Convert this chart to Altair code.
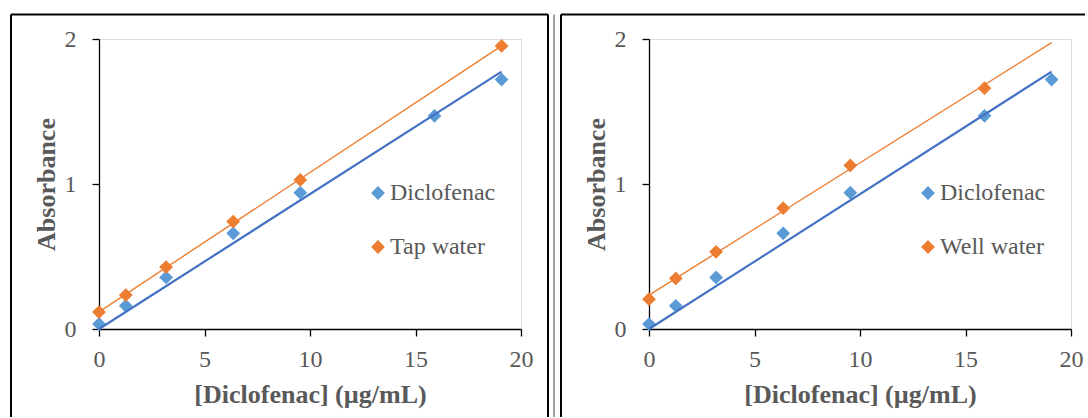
import altair as alt
import numpy as np
import pandas as pd

# ---------------- data ----------------
conc = [0, 1.27, 3.18, 6.36, 9.54, 15.9, 19.08]
diclofenac = [0.034, 0.16, 0.356, 0.66, 0.94, 1.47, 1.72]

tap_conc = [0, 1.27, 3.18, 6.36, 9.54, 19.08]
tap_water = [0.117, 0.234, 0.427, 0.741, 1.028, 1.952]

well_conc = [0, 1.27, 3.18, 6.36, 9.54, 15.9]
well_water = [0.206, 0.349, 0.532, 0.833, 1.128, 1.661]

x_ticks = [0, 5, 10, 15, 20]
y_ticks = [0, 1, 2]
x_title = "[Diclofenac] (µg/mL)"
y_title = "Absorbance"

BLUE_PT = "#5B9BD5"
BLUE_LN = "#4472C4"
ORANGE = "#ED7D31"
GRAY_TXT = "#595959"
FONT = "Liberation Serif"

W, H = 422, 290


def trend(xs, ys, origin=False):
    xs = np.asarray(xs, float)
    ys = np.asarray(ys, float)
    if origin:
        m = float((xs * ys).sum() / (xs * xs).sum())
        b = 0.0
    else:
        m, b = np.polyfit(xs, ys, 1)
    xr = [0.0, float(max(conc))]
    return pd.DataFrame({"x": xr, "y": [b + m * v for v in xr]})


x_enc = alt.X(
    "x:Q",
    scale=alt.Scale(domain=[0, 20], nice=False, zero=False),
    axis=alt.Axis(
        values=x_ticks, title=x_title, grid=False, labelFlush=False,
        labelOverlap=False, labelExpr="datum.value + ''",
        domainColor="black", domainWidth=1.3, tickColor="black", tickWidth=1.3,
        tickSize=7, labelFont=FONT, labelFontSize=24, labelColor=GRAY_TXT,
        labelPadding=11, titleFont=FONT, titleFontSize=26, titleFontWeight="bold",
        titleColor=GRAY_TXT, titleX=211, titleY=73, titleBaseline="alphabetic",
        titleAlign="center",
    ),
)
y_enc = alt.Y(
    "y:Q",
    scale=alt.Scale(domain=[0, 2], nice=False, zero=False),
    axis=alt.Axis(
        values=y_ticks, title=y_title, grid=False,
        labelOverlap=False, labelExpr="datum.value + ''",
        domainColor="black", domainWidth=1.3, tickColor="black", tickWidth=1.3,
        tickSize=7, labelFont=FONT, labelFontSize=24, labelColor=GRAY_TXT,
        labelPadding=16, titleFont=FONT, titleFontSize=26, titleFontWeight="bold",
        titleColor=GRAY_TXT, titleAngle=270, titleX=-45, titleY=H / 2,
        titleBaseline="alphabetic", titleAlign="center",
    ),
)

one = alt.Data(values=[{"a": 1}])


def frame(right_side=True, right_end=449, separator=False):
    parts = [
        alt.Chart(one).mark_rule(color="black", strokeWidth=2).encode(
            x=alt.value(-88), x2=alt.value(right_end), y=alt.value(-24.5)),
        alt.Chart(one).mark_rule(color="black", strokeWidth=2).encode(
            x=alt.value(-88), y=alt.value(-24.5), y2=alt.value(378)),
    ]
    if right_side:
        parts.append(alt.Chart(one).mark_rule(color="black", strokeWidth=2).encode(
            x=alt.value(right_end), y=alt.value(-24.5), y2=alt.value(378)))
    if separator:
        parts.append(alt.Chart(one).mark_rule(color="#7f7f7f", strokeWidth=1.5).encode(
            x=alt.value(455), y=alt.value(-24.5), y2=alt.value(378)))
    return parts


def panel(name2, conc2, vals2, left=True):
    pts = pd.DataFrame({
        "x": conc + conc2,
        "y": diclofenac + vals2,
        "series": ["Diclofenac"] * len(conc) + [name2] * len(conc2),
    })
    points = alt.Chart(pts).mark_point(
        shape="diamond", filled=True, size=190, opacity=1
    ).encode(
        x=x_enc, y=y_enc,
        color=alt.Color(
            "series:N",
            scale=alt.Scale(domain=["Diclofenac", name2], range=[BLUE_PT, ORANGE]),
            legend=alt.Legend(
                title=None, orient="none", legendX=267, legendY=142,
                symbolType="diamond", symbolSize=190, symbolStrokeWidth=0,
                labelFont=FONT, labelFontSize=24, labelColor=GRAY_TXT,
                rowPadding=30, labelOffset=0, padding=0,
            ),
        ),
    )
    l1 = alt.Chart(trend(conc, diclofenac, origin=True)).mark_line(
        color=BLUE_LN, strokeWidth=2.2).encode(x=x_enc, y=y_enc)
    l2 = alt.Chart(trend(conc2, vals2)).mark_line(
        color=ORANGE, strokeWidth=1.4).encode(x=x_enc, y=y_enc)
    if left:
        fr = frame(right_side=True, right_end=449, separator=True)
    else:
        fr = frame(right_side=False, right_end=436)
    return alt.layer(points, l1, l2, *fr).properties(width=W, height=H)


left = panel("Tap water", tap_conc, tap_water, left=True)
right = panel("Well water", well_conc, well_water, left=False)

chart = alt.hconcat(left, right, spacing=3).resolve_scale(
    color="independent"
).properties(
    padding={"left": 9, "top": 13, "right": 0, "bottom": 0}
).configure_view(stroke=None).configure(
    background="white", font=FONT
).configure_axis(labelFont=FONT, titleFont=FONT).configure_legend(labelFont=FONT)

chart.save("out.html", embed_options={"renderer": "svg", "actions": False})
